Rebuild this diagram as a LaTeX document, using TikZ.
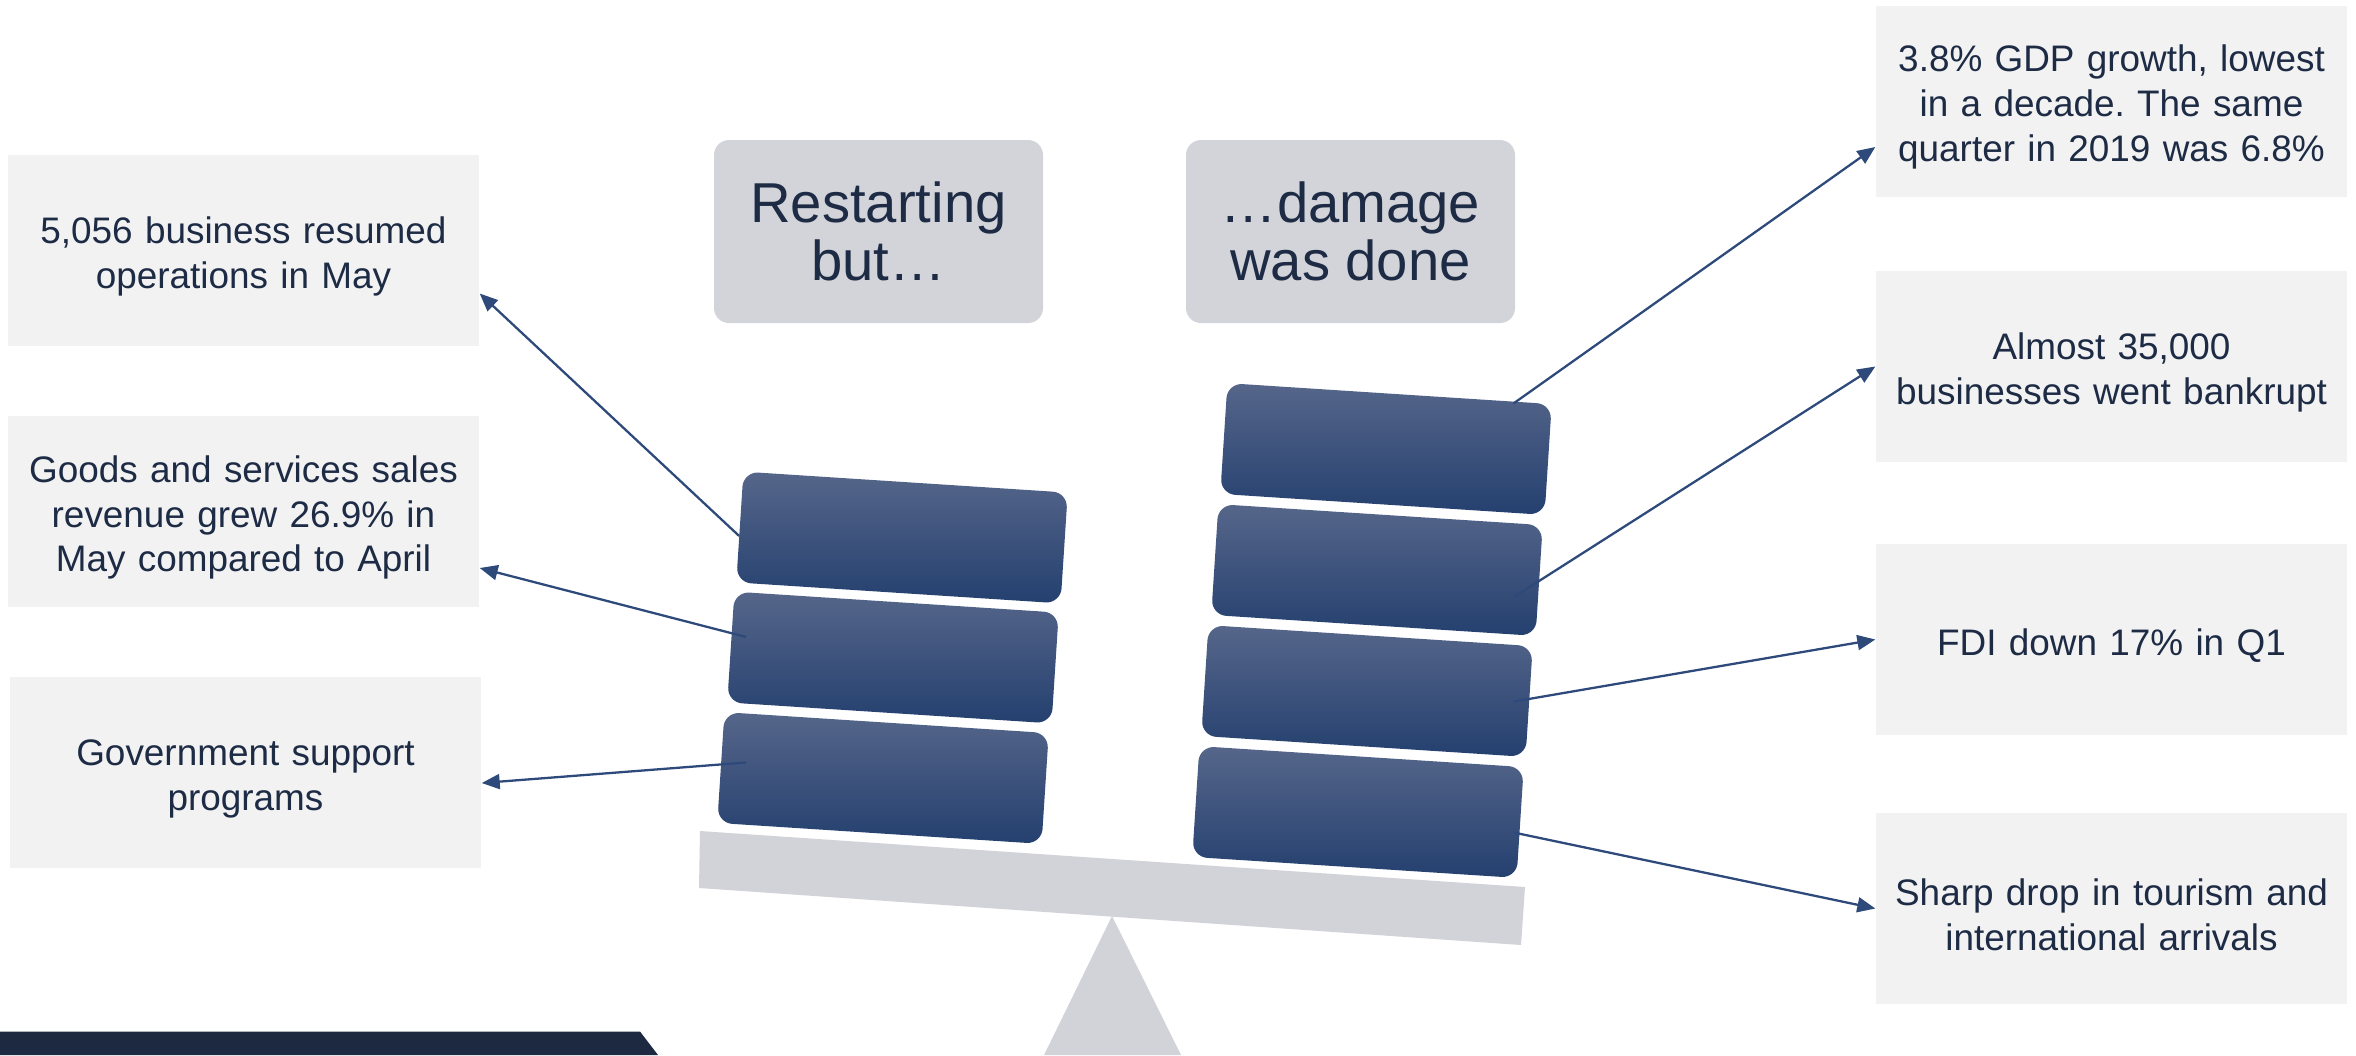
\documentclass[tikz,border=0pt]{standalone}
\usepackage{fontspec}
\setmainfont{Liberation Sans}
\frenchspacing
\usetikzlibrary{arrows.meta}
\definecolor{navytext}{HTML}{1D2B45}
\definecolor{boxgrey}{HTML}{F2F2F2}
\definecolor{titlegrey}{HTML}{D3D4D9}
\definecolor{plankgrey}{HTML}{D2D3D8}
\definecolor{arrowblue}{HTML}{2E4A7B}
\definecolor{blocktop}{HTML}{56668A}
\definecolor{blockbot}{HTML}{24406F}
\definecolor{barnavy}{HTML}{1C2941}

\begin{document}
\begin{tikzpicture}[
    sidebox/.style={
        fill=boxgrey, minimum width=4.71cm, minimum height=1.91cm,
        text width=4.5cm, inner xsep=0.1cm, align=center, text height=11pt,
        font=\fontsize{10.5}{12.8}\selectfont, text=navytext,
    },
    titlebox/.style={
        fill=titlegrey, rounded corners=0.15cm,
        minimum width=3.29cm, minimum height=1.83cm, align=center,
        font=\fontsize{16}{16.5}\selectfont, text=navytext,
    },
    weight/.style={
        rounded corners=0.15cm, inner sep=0,
        minimum width=3.25cm, minimum height=1.11cm, rotate=-3.7,
        top color=blocktop, bottom color=blockbot,
    },
    arr/.style={-{Triangle[length=1.8mm,width=1.5mm]}, line width=0.65pt, draw=arrowblue},
]
\useasboundingbox (0,0) rectangle (23.56,10.55);

% ════════════════════════════════════════
% Footer bar
% ════════════════════════════════════════
\fill[barnavy] (0,0) -- (0,0.235) -- (6.40,0.235) -- (6.58,0) -- cycle;

% ════════════════════════════════════════
% Seesaw: fulcrum and plank
% ════════════════════════════════════════
\fill[plankgrey] (11.12,1.39) -- (10.44,0) -- (11.81,0) -- cycle;
\fill[plankgrey] (7.00,2.24) -- (15.25,1.68) -- (15.21,1.10) -- (6.99,1.67) -- cycle;

% ════════════════════════════════════════
% Weights (left stack of 3, right stack of 4)
% ════════════════════════════════════════
\foreach \n/\x/\y in {la/9.02/5.175, lb/8.93/3.975, lc/8.83/2.77,
                      ra/13.86/6.06, rb/13.77/4.85, rc/13.67/3.64, rd/13.58/2.43} {
    \node[weight] (\n) at (\x,\y) {};
}

% ════════════════════════════════════════
% Headings
% ════════════════════════════════════════
\node[titlebox] (restart) at (8.785,8.235) {Restarting\\but…};
\node[titlebox] (damage) at (13.505,8.235) {…damage\\was done};

% ════════════════════════════════════════
% Left side facts
% ════════════════════════════════════════
\node[sidebox] (resumed) at (2.435,8.045) {5,056 business resumed\\operations in May};
\node[sidebox] (revenue) at (2.435,5.435) {Goods and services sales\\revenue grew 26.9\% in\\May compared to April};
\node[sidebox] (support) at (2.455,2.83) {Government support\\programs};

% ════════════════════════════════════════
% Right side facts
% ════════════════════════════════════════
\node[sidebox] (gdp) at (21.115,9.54) {3.8\% GDP growth, lowest\\in a decade. The same\\quarter in 2019 was 6.8\%};
\node[sidebox] (bankrupt) at (21.115,6.885) {Almost 35,000\\businesses went bankrupt};
\node[sidebox] (fdi) at (21.115,4.155) {FDI down 17\% in Q1};
\node[sidebox] (tourism) at (21.115,1.465) {Sharp drop in tourism and\\international arrivals};

% ════════════════════════════════════════
% Connectors: weights → facts
% ════════════════════════════════════════
\draw[arr] ([yshift=-0.9mm]la.west) -- ([yshift=-4.3mm]resumed.east);
\draw[arr] ([shift={(0.16,0.10)}]lb.west) -- ([yshift=-5.65mm]revenue.east);
\draw[arr] ([shift={(0.26,0.05)}]lc.west) -- ([yshift=-1.1mm]support.east);

\draw[arr] ([xshift=-3.9mm]ra.north east) -- ([yshift=-4.6mm]gdp.west);
\draw[arr] ([shift={(-0.26,-0.165)}]rb.east) -- (bankrupt.west);
\draw[arr] ([xshift=-1.6mm]rc.east) -- (fdi.west);
\draw[arr] ([shift={(-0.07,-0.10)}]rd.east) -- (tourism.west);

\end{tikzpicture}
\end{document}
